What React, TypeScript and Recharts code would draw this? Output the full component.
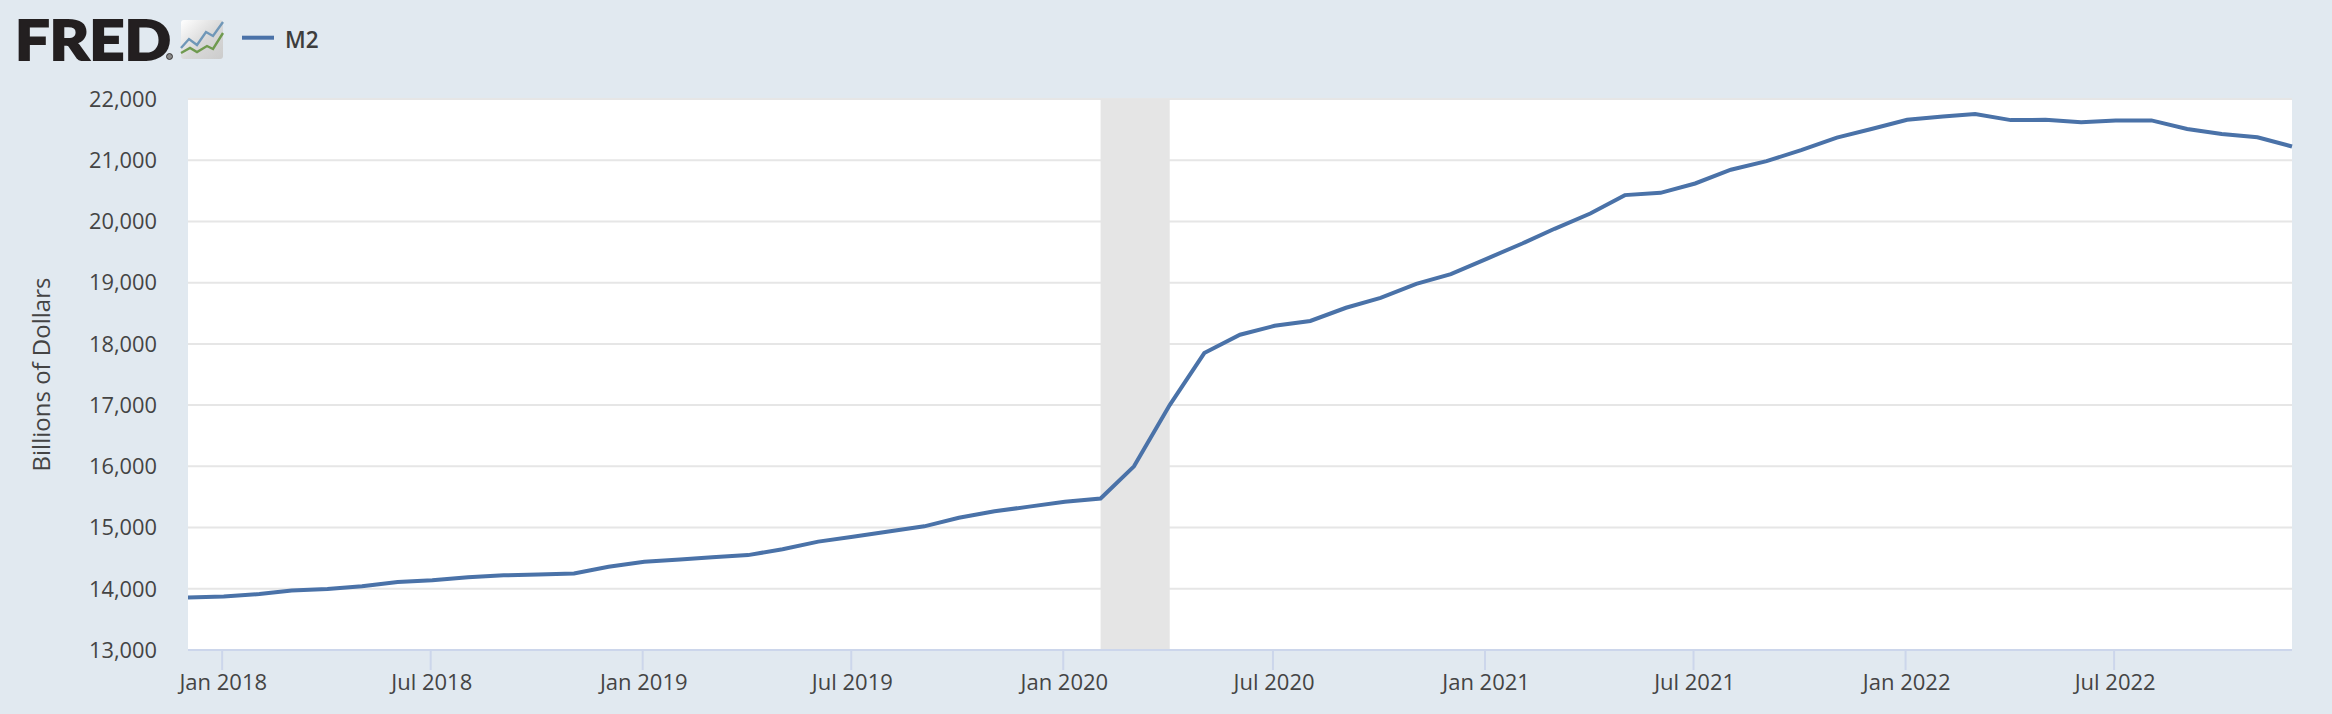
import React from 'react';
import {
  LineChart,
  Line,
  XAxis,
  YAxis,
  CartesianGrid,
  ReferenceArea,
  Label
} from 'recharts';

const months = [
  '2017-12-01',
  '2018-01-01', '2018-02-01', '2018-03-01', '2018-04-01', '2018-05-01', '2018-06-01',
  '2018-07-01', '2018-08-01', '2018-09-01', '2018-10-01', '2018-11-01', '2018-12-01',
  '2019-01-01', '2019-02-01', '2019-03-01', '2019-04-01', '2019-05-01', '2019-06-01',
  '2019-07-01', '2019-08-01', '2019-09-01', '2019-10-01', '2019-11-01', '2019-12-01',
  '2020-01-01', '2020-02-01', '2020-03-01', '2020-04-01', '2020-05-01', '2020-06-01',
  '2020-07-01', '2020-08-01', '2020-09-01', '2020-10-01', '2020-11-01', '2020-12-01',
  '2021-01-01', '2021-02-01', '2021-03-01', '2021-04-01', '2021-05-01', '2021-06-01',
  '2021-07-01', '2021-08-01', '2021-09-01', '2021-10-01', '2021-11-01', '2021-12-01',
  '2022-01-01', '2022-02-01', '2022-03-01', '2022-04-01', '2022-05-01', '2022-06-01',
  '2022-07-01', '2022-08-01', '2022-09-01', '2022-10-01', '2022-11-01', '2022-12-01'
];

const m2Values = [
  13859,
  13875, 13913, 13973, 13995, 14043, 14109,
  14141, 14190, 14220, 14235, 14250, 14360,
  14440, 14478, 14515, 14550, 14647, 14770,
  14850, 14935, 15020, 15160, 15265, 15342,
  15420, 15475, 16000, 17000, 17850, 18150,
  18295, 18375, 18590, 18750, 18980, 19140,
  19390, 19640, 19880, 20130, 20430, 20467,
  20620, 20845, 20985, 21165, 21370, 21510,
  21660, 21715, 21755, 21655, 21660, 21620,
  21650, 21650, 21510, 21430, 21375, 21225
];

const xTickDates = [
  '2018-01-01', '2018-07-01', '2019-01-01', '2019-07-01', '2020-01-01',
  '2020-07-01', '2021-01-01', '2021-07-01', '2022-01-01', '2022-07-01'
];
const xTickLabels = [
  'Jan 2018', 'Jul 2018', 'Jan 2019', 'Jul 2019', 'Jan 2020',
  'Jul 2020', 'Jan 2021', 'Jul 2021', 'Jan 2022', 'Jul 2022'
];
const yTicks = [13000, 14000, 15000, 16000, 17000, 18000, 19000, 20000, 21000, 22000];

const recessionStart = '2020-02-01';
const recessionEnd = '2020-04-01';

const toTime = (d: string) => new Date(d + 'T00:00:00Z').getTime();

const chartData = months.map((m, i) => ({ date: toTime(m), m2: m2Values[i] }));
const xTicks = xTickDates.map(toTime);

const FONT = '"Open Sans", sans-serif';
const TEXT_COLOR = '#444444';
const AXIS_COLOR = '#ccd6eb';
const LINE_COLOR = '#4a72a8';

// FRED draws its month ticks slightly left of the data position
const DateTick = (props: any) => {
  const { x, y, payload } = props;
  const label = xTickLabels[xTicks.indexOf(payload.value)];
  return (
    <g>
      <line x1={x - 1.6} x2={x - 1.6} y1={y} y2={y + 20} stroke={AXIS_COLOR} strokeWidth={2} />
      <text x={x - 0.5} y={y + 40} textAnchor="middle" fill={TEXT_COLOR} fontSize={22} fontFamily={FONT}>
        {label}
      </text>
    </g>
  );
};

const Header = () => (
  <svg width={340} height={70} style={{ position: 'absolute', left: 0, top: 0 }}>
    <defs>
      <linearGradient id="iconBg" x1="0" y1="0" x2="1" y2="1">
        <stop offset="0" stopColor="#ffffff" />
        <stop offset="0.55" stopColor="#d8d8d8" />
        <stop offset="1" stopColor="#cccccc" />
      </linearGradient>
    </defs>
    <text
      x={15}
      y={59.5}
      fontFamily="Lato, sans-serif"
      fontWeight={900}
      fontSize={56}
      fill="#231f20"
      stroke="#231f20"
      strokeWidth={1.8}
      textLength={156}
      lengthAdjust="spacingAndGlyphs"
    >
      FRED
    </text>
    <circle cx={169.5} cy={56.5} r={3} fill="#8a8a8a" stroke="#231f20" strokeWidth={0.8} />
    <rect x={181} y={20} width={42} height={39} rx={3} fill="url(#iconBg)" />
    <polyline points="181,48 189,39 197,45 206,32 213,36 223,22" fill="none" stroke="#6f97b8" strokeWidth={2.4} />
    <polyline points="181,53 190,48 197,52 207,46 213,49 223,33" fill="none" stroke="#6f9a4f" strokeWidth={2.4} />
    <line x1={242} x2={274} y1={37.7} y2={37.7} stroke={LINE_COLOR} strokeWidth={4} />
    <text x={285} y={48} fontFamily={FONT} fontWeight={600} fontSize={22.5} fill="#3d3d3d">M2</text>
  </svg>
);

export default function App() {
  return (
    <div style={{ position: 'absolute', left: 0, top: 0, width: 2332, height: 714, background: '#e1e9f0', overflow: 'hidden' }}>
      <Header />
      <LineChart
        width={2332}
        height={714}
        data={chartData}
        margin={{ top: 99, right: 40, bottom: 0, left: 0 }}
      >
        <CartesianGrid vertical={false} fill="#ffffff" stroke="#e6e6e6" strokeWidth={2} />
        <XAxis
          dataKey="date"
          type="number"
          scale="linear"
          domain={[toTime(months[0]), toTime(months[months.length - 1])]}
          ticks={xTicks}
          interval={0}
          height={64}
          tickSize={0}
          tickMargin={0}
          tick={<DateTick />}
          axisLine={{ stroke: AXIS_COLOR, strokeWidth: 2 }}
          tickLine={false}
        />
        <YAxis
          type="number"
          domain={[13000, 22000]}
          ticks={yTicks}
          interval={0}
          width={188}
          tickSize={0}
          tickMargin={31}
          axisLine={false}
          tickLine={false}
          tickFormatter={(v: number) => v.toLocaleString('en-US')}
          tick={{ fill: TEXT_COLOR, fontSize: 21.8, fontFamily: FONT }}
        >
          <Label
            value="Billions of Dollars"
            angle={-90}
            position="insideLeft"
            offset={0}
            dx={41}
            style={{ fill: TEXT_COLOR, fontSize: 24, fontFamily: FONT, textAnchor: 'middle' }}
          />
        </YAxis>
        <ReferenceArea
          x1={toTime(recessionStart)}
          x2={toTime(recessionEnd)}
          y1={13000}
          y2={22000}
          fill="#e5e5e5"
          fillOpacity={1}
          stroke="none"
        />
        <Line
          dataKey="m2"
          type="linear"
          stroke={LINE_COLOR}
          strokeWidth={4}
          dot={false}
          activeDot={false}
          isAnimationActive={false}
        />
      </LineChart>
    </div>
  );
}
